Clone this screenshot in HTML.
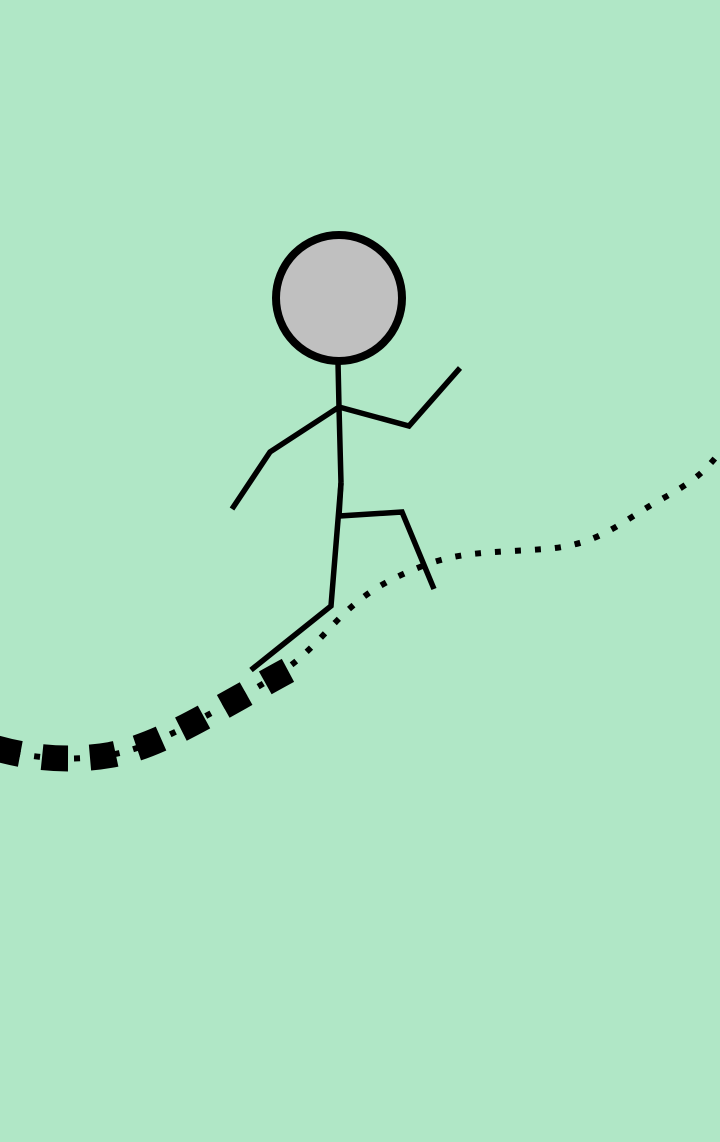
<!DOCTYPE html>
<html><head><meta charset="utf-8"><style>html,body{margin:0;padding:0;background:#b0e7c6;}svg{display:block}</style></head>
<body>
<svg width="720" height="1142" viewBox="0 0 720 1142">
<rect width="720" height="1142" fill="#b0e7c6"/>
<path d="M -5 748 C 30 758, 70 762, 110 755 S 190 725, 240 697 S 285 672, 300 664" fill="none" stroke="#000" stroke-width="26" stroke-dasharray="26 22"/>
<path d="M -5 748 C 30 758, 70 762, 110 755 S 190 725, 240 697 S 300 660, 330 628 S 380 583, 420 567 S 490 553, 545 549 S 620 522, 660 500 S 705 470, 722 450" fill="none" stroke="#000" stroke-width="6" stroke-dasharray="6 14"/>
<g fill="none" stroke="#000" stroke-width="5.5">
<polyline points="338,362 339,407 341,483"/>
<polyline points="339,407 270,452 232,509"/>
<polyline points="339,407 409,426 460,368"/>
<polyline points="341,483 331,606 251,670"/>
<polyline points="341,483 339,516 402,512 434,589"/>
</g>
<circle cx="339" cy="298" r="63" fill="#c0c0c0" stroke="#000" stroke-width="8"/>
</svg>
</body></html>
